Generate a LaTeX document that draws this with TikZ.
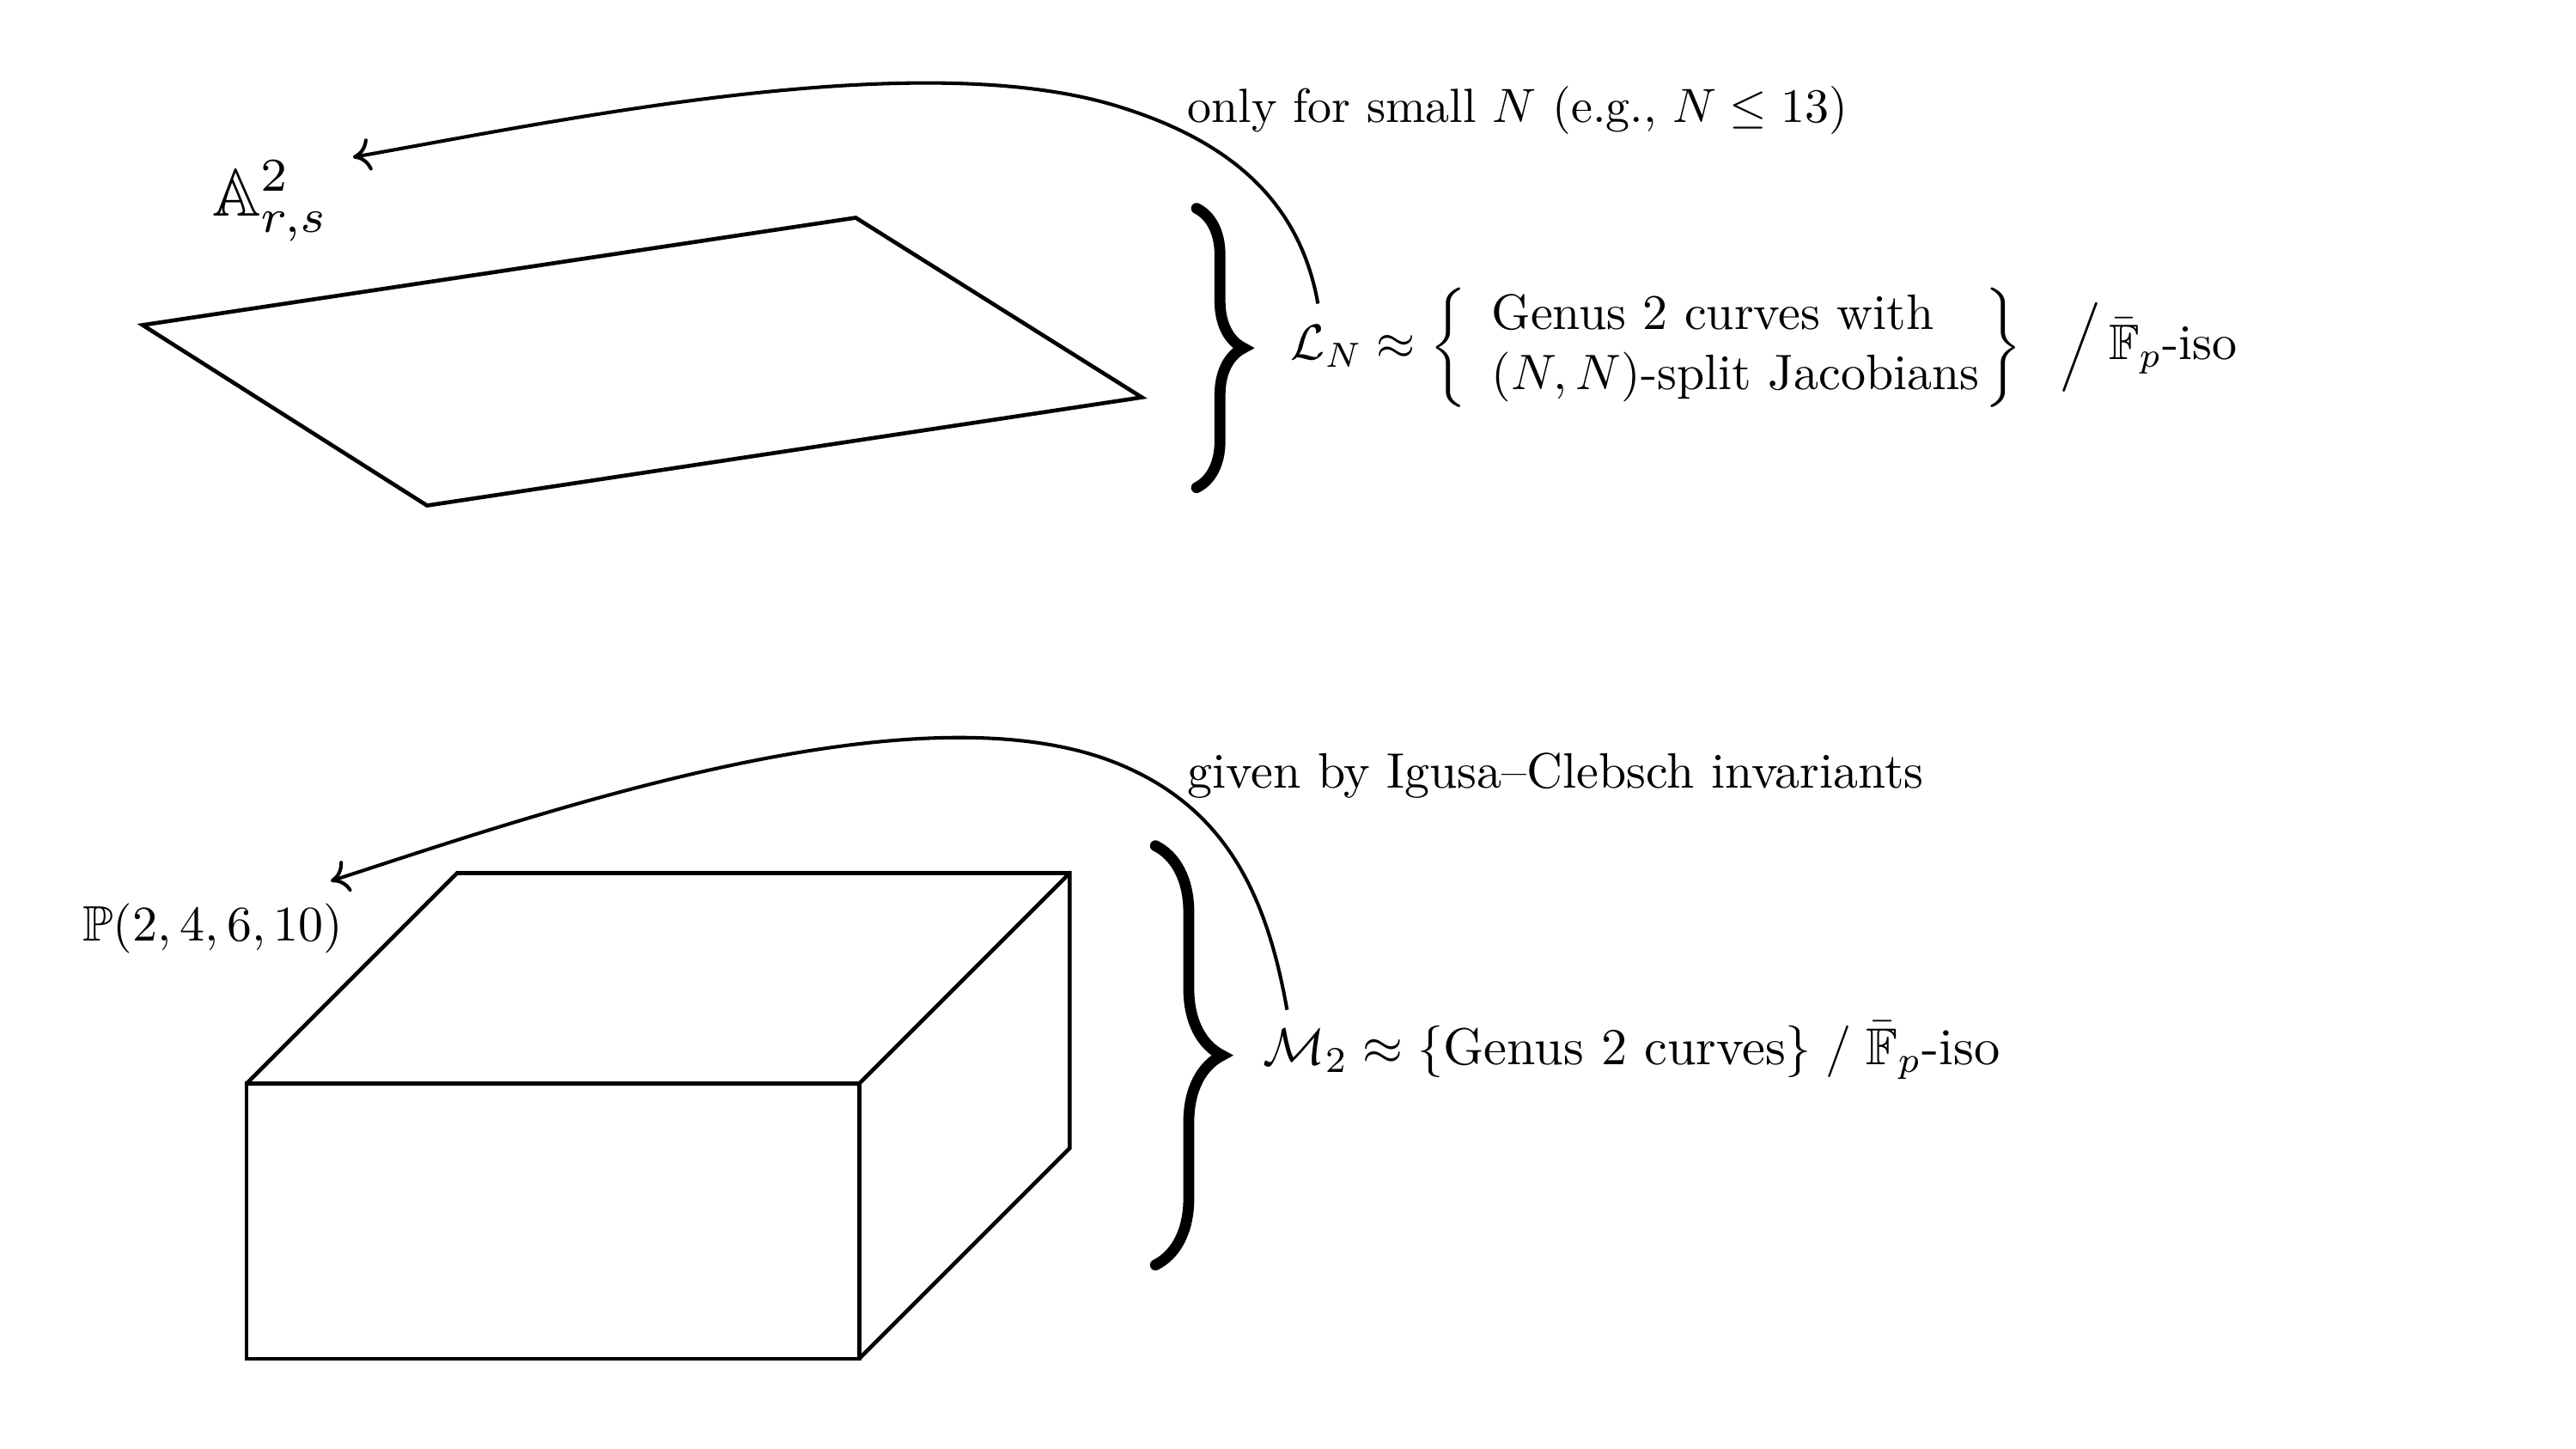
\documentclass[tikz,border=0pt]{standalone}
\usepackage{amsmath}
\usepackage{amssymb}
\usepackage{tikz}
\usetikzlibrary{decorations.pathreplacing,arrows.meta}

\begin{document}
\begin{tikzpicture}[
        face/.style={draw=black, thick, line join=miter},
        bigbrace/.style={decorate, decoration={brace, amplitude=#1}, line width=2.2pt, line cap=round},
        arrow/.style={-{To[length=3.5pt, width=6.5pt]}, line width=0.7pt},
        space/.style={anchor=west},
        note/.style={anchor=base west, inner sep=0pt},
      ]
      \useasboundingbox (0,0) rectangle (18.17,10.22);
      % upper part: the plane
      \draw [face] (1.006,7.927) -- (6.036,8.684) -- (8.054,7.417) -- (3.012,6.654) -- cycle;
      \node [space, scale=1.35] (Alab) at (1.33,8.80) {$\mathbb{A}^2_{r,s}$};
      \draw [bigbrace=0.33cm] (8.44,8.75) -- (8.44,6.78);
      \node [space] (Lrel) at (8.98,7.77) {$\mathcal{L}_N \approx \left\{\begin{array}{l@{\hspace{1pt}}}\text{Genus 2 curves with}\\ (N,N)\text{-split Jacobians}\end{array}\right\}\hspace{6pt}\Big/\,\bar{\mathbb{F}}_p\text{-iso}$};
      \node [note, scale=0.965] (Lnote) at (8.37,9.357) {only for small $N$ (e.g., $N \leq 13$)};
      \coordinate (Lfrom) at (9.296,8.078);
      \coordinate (Lbend) at (7.878,9.472);
      \draw [arrow] (Lfrom) to[out=100, in=-17] (Lbend) to[out=163, in=10, looseness=0.7] ([xshift=0pt, yshift=-4pt]Alab.north east);
      % lower part: the box
      \draw [face] (1.739,0.636) rectangle (6.06,2.576);
      \draw [face] (1.739,2.576) -- ++(1.485,1.485) -- ++(4.321,0) -- ++(0,-1.94) -- (6.06,0.636);
      \draw [face] (6.06,2.576) -- ++(1.485,1.485);
      \node [space] (Plab) at (0.46,3.67) {$\mathbb{P}(2,4,6,10)$};
      \draw [bigbrace=0.47cm] (8.15,4.254) -- (8.15,1.297);
      \node [space, scale=1.04] (Mrel) at (8.78,2.81) {$\mathcal{M}_2 \approx \{\text{Genus 2 curves}\}\;/\;\bar{\mathbb{F}}_p\text{-iso}$};
      \node [note] (Mnote) at (8.37,4.66) {given by Igusa--Clebsch invariants};
      \coordinate (Mfrom) at (9.078,3.097);
      \coordinate (Mbend) at (7.878,4.836);
      \draw [arrow] (Mfrom) to[out=100, in=-22] (Mbend) to[out=158, in=18, looseness=0.7] ([xshift=-6pt, yshift=1pt]Plab.north east);
    \end{tikzpicture}
\end{document}
